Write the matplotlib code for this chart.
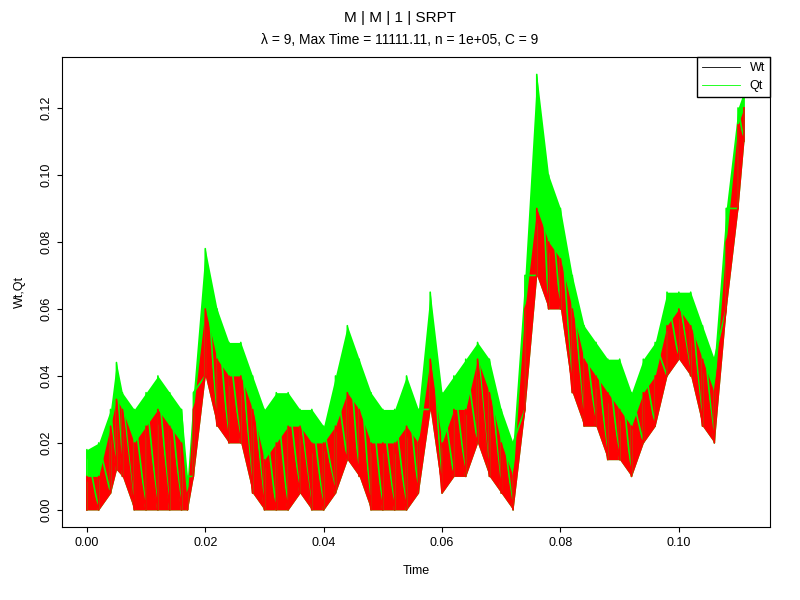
import numpy as np
import matplotlib
matplotlib.use("Agg")
import matplotlib.pyplot as plt

plt.rcParams["font.family"] = ["Liberation Sans", "DejaVu Sans"]

# estimated envelope of the sample paths
time = [0.000, 0.002, 0.004, 0.005, 0.006, 0.008, 0.010, 0.012, 0.014, 0.016,
        0.017, 0.018, 0.020, 0.022, 0.024, 0.026, 0.028, 0.030, 0.032, 0.034,
        0.036, 0.038, 0.040, 0.042, 0.044, 0.046, 0.048, 0.050, 0.052, 0.054,
        0.056, 0.058, 0.060, 0.062, 0.064, 0.066, 0.068, 0.070, 0.072, 0.074,
        0.076, 0.078, 0.080, 0.082, 0.084, 0.086, 0.088, 0.090, 0.092, 0.094,
        0.096, 0.098, 0.100, 0.102, 0.104, 0.106, 0.108, 0.110, 0.111]
wt_low = [0.000, 0.000, 0.005, 0.012, 0.010, 0.000, 0.000, 0.000, 0.000, 0.000,
          0.000, 0.010, 0.040, 0.025, 0.020, 0.020, 0.005, 0.000, 0.000, 0.000,
          0.005, 0.000, 0.000, 0.005, 0.015, 0.010, 0.000, 0.000, 0.000, 0.000,
          0.005, 0.030, 0.005, 0.010, 0.010, 0.020, 0.010, 0.005, 0.000, 0.030,
          0.070, 0.060, 0.060, 0.035, 0.025, 0.025, 0.015, 0.015, 0.010, 0.020,
          0.025, 0.040, 0.045, 0.040, 0.025, 0.020, 0.060, 0.090, 0.110]
wt_high = [0.010, 0.010, 0.025, 0.033, 0.030, 0.020, 0.025, 0.030, 0.025, 0.020,
           0.005, 0.030, 0.060, 0.045, 0.040, 0.040, 0.030, 0.015, 0.020, 0.025,
           0.025, 0.020, 0.020, 0.025, 0.035, 0.030, 0.020, 0.020, 0.020, 0.025,
           0.020, 0.045, 0.020, 0.030, 0.030, 0.045, 0.035, 0.020, 0.010, 0.060,
           0.090, 0.080, 0.075, 0.060, 0.045, 0.040, 0.035, 0.030, 0.025, 0.035,
           0.040, 0.055, 0.060, 0.055, 0.045, 0.035, 0.080, 0.115, 0.120]
qt_high = [0.018, 0.020, 0.030, 0.044, 0.035, 0.030, 0.035, 0.040, 0.035, 0.030,
           0.010, 0.035, 0.078, 0.060, 0.050, 0.050, 0.040, 0.030, 0.035, 0.035,
           0.030, 0.030, 0.025, 0.040, 0.055, 0.045, 0.035, 0.030, 0.030, 0.040,
           0.030, 0.065, 0.035, 0.040, 0.045, 0.050, 0.045, 0.030, 0.020, 0.070,
           0.130, 0.100, 0.090, 0.070, 0.055, 0.050, 0.045, 0.045, 0.035, 0.045,
           0.050, 0.065, 0.065, 0.065, 0.055, 0.045, 0.090, 0.120, 0.125]

def zigzag(t, lo, hi):
    xs, ys = [], []
    for a, b, c in zip(t, lo, hi):
        xs += [a, a]
        ys += [b, c]
    return xs, ys

fig = plt.figure(figsize=(8, 6), dpi=100)
ax = fig.add_axes([62/800, 73/600, 708/800, 470/600])

ax.fill_between(time, wt_low, qt_high, color="#00ff00", lw=0)
gx, gy = zigzag(time, wt_low, qt_high)
ax.plot(gx, gy, color="#00ff00", lw=1.2)
ax.fill_between(time, wt_low, wt_high, color="red", lw=0)
rx, ry = zigzag(time, wt_low, wt_high)
ax.plot(rx, ry, color="red", lw=1.2)

ax.set_xlim(-0.0042, 0.1154)
ax.set_ylim(-0.0051, 0.1352)
ax.set_xticks([0.00, 0.02, 0.04, 0.06, 0.08, 0.10])
ax.set_xticklabels(["0.00", "0.02", "0.04", "0.06", "0.08", "0.10"])
ax.set_yticks([0.00, 0.02, 0.04, 0.06, 0.08, 0.10, 0.12])
ax.set_yticklabels(["0.00", "0.02", "0.04", "0.06", "0.08", "0.10", "0.12"], rotation=90, va="center")
ax.tick_params(labelsize=9)
ax.set_xlabel("Time", fontsize=9, labelpad=12)
ax.set_ylabel("Wt,Qt", fontsize=9, labelpad=10)
fig.text(0.5, 1 - 18/600, "M | M | 1 | SRPT", ha="center", va="center", fontsize=11)
fig.text(0.5, 1 - 40/600, "λ = 9, Max Time = 11111.11, n = 1e+05, C = 9", ha="center", va="center", fontsize=10)

h1, = ax.plot([], [], color="black", lw=0.6, label="Wt")
h2, = ax.plot([], [], color="#00ff00", lw=0.6, label="Qt")
leg = ax.legend([h1, h2], ["Wt", "Qt"], loc="upper right", fontsize=9,
                fancybox=False, framealpha=1, borderaxespad=0, handlelength=3)
leg.get_frame().set_edgecolor("black")

fig.savefig("out.png", dpi=100)
